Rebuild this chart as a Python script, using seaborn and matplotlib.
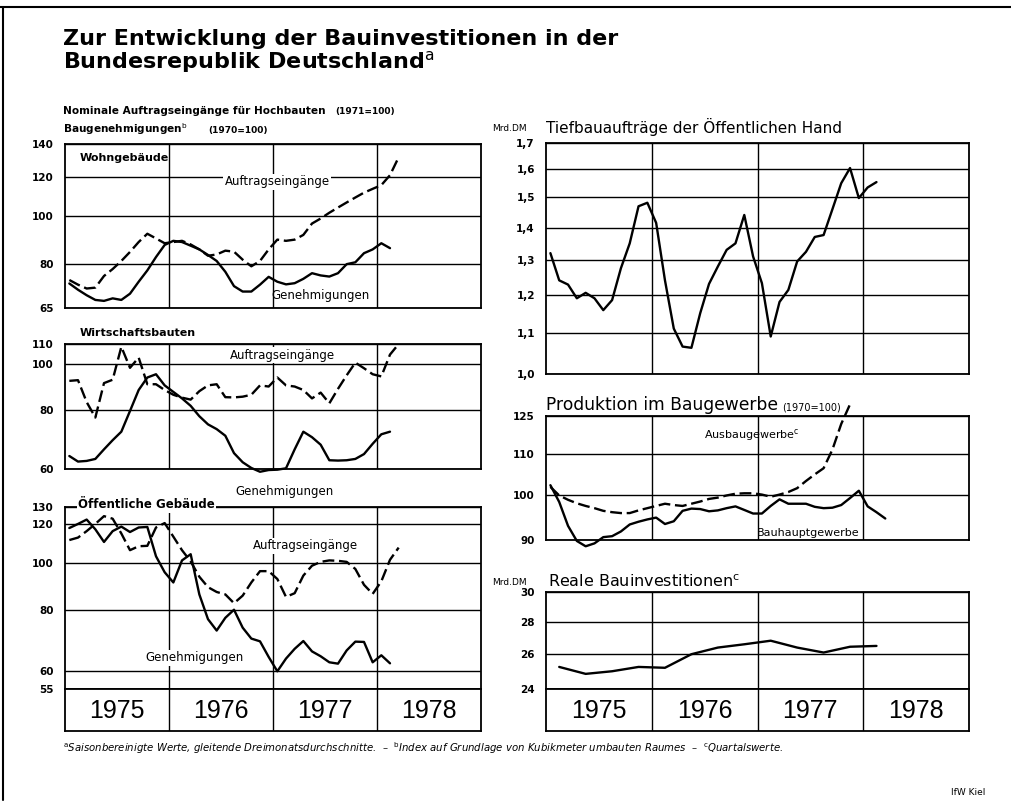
import numpy as np
import pandas as pd
import matplotlib
matplotlib.use("Agg")
import matplotlib.pyplot as plt
import seaborn as sns
from matplotlib.ticker import FixedLocator, FixedFormatter, NullLocator
from matplotlib.lines import Line2D

sns.set_style("white")
plt.rcParams['font.family'] = ['DejaVu Sans']
plt.rcParams['text.color'] = 'black'
plt.rcParams['xtick.color'] = 'black'
plt.rcParams['ytick.color'] = 'black'

# --- Daten (Monatswerte ab Jan 1975) ---
jahre = [1975, 1976, 1977, 1978]

wohn_auftrag = [74.1, 72.5, 71.2, 71.5, 75.5, 78, 81, 84.5, 88.5, 92, 90, 88, 88.5,
                89, 87.5, 85.5, 83, 83.5, 85, 84.6, 81.5, 79, 81, 85.5, 89.5, 89,
                89.5, 91.5, 96.5, 98.8, 101.5, 104, 106.5, 109, 111.5, 113.5, 115.5,
                121, 131.6]
wohn_genehm = [72.9, 70.8, 69, 67.5, 67.2, 68, 67.5, 69.5, 73.5, 77.5, 82.5, 87.3, 89,
               88.5, 87, 85.5, 83.3, 81, 77, 72, 70.2, 70.2, 72.5, 75.2, 73.5, 72.6,
               73, 74.5, 76.5, 75.7, 75.3, 76.5, 79.8, 80.5, 84, 85.5, 88, 86]

wirt_auftrag = [92, 92.3, 83, 77, 91, 92.5, 108.5, 98, 103, 90.5, 90.5, 88, 86, 84.8,
                84, 87.5, 90, 90.5, 85, 84.9, 85.2, 86, 90, 89.5, 93.5, 90, 89.5, 88,
                84.5, 86.9, 82.5, 88.5, 94.5, 100.5, 97.8, 95, 94, 104.5, 110]
wirt_genehm = [63.9, 62.2, 62.4, 63, 66, 69, 71.9, 79.5, 88, 93.5, 95, 90, 87.2, 84.5,
               81.5, 77.5, 74.5, 72.8, 70.5, 64.8, 62, 60.3, 59.2, 59.7, 59.8, 60.2,
               66, 71.9, 70, 67.5, 62.6, 62.5, 62.6, 63, 64.5, 67.8, 71, 71.9]

oeff_auftrag = [111.2, 112.5, 116, 120, 124.5, 123, 114.7, 106, 108, 108.2, 118, 120.5,
                113, 106, 100.5, 93.5, 89, 87, 86, 82.5, 85.5, 91, 96, 96, 92.5, 85,
                86.5, 94, 98.5, 100.3, 101, 100.8, 100.3, 97, 90, 86.2, 91.5, 101.3, 107.3]
oeff_genehm = [117.7, 120, 122.5, 117, 110.2, 116, 118.5, 115.5, 118, 118.3, 103, 95.5,
               91, 101, 104, 86, 76.5, 72.5, 77, 80, 73.5, 69.8, 68.9, 64, 59.8, 63.5,
               66.5, 69, 65.7, 64.2, 62.4, 62, 66, 68.8, 68.7, 62.4, 64.5, 62.1]

tiefbau = [1.32, 1.24, 1.228, 1.19, 1.205, 1.19, 1.158, 1.185, 1.275, 1.35, 1.47, 1.482,
           1.415, 1.24, 1.11, 1.065, 1.062, 1.15, 1.23, 1.28, 1.33, 1.35, 1.441, 1.31,
           1.232, 1.09, 1.18, 1.213, 1.295, 1.324, 1.37, 1.376, 1.46, 1.55, 1.605,
           1.498, 1.535, 1.554]

bauhaupt = [102.2, 98.3, 93, 89.8, 88.7, 89.3, 90.6, 90.8, 91.8, 93.3, 93.9, 94.4, 94.8,
            93.4, 94, 96.3, 96.8, 96.7, 96.2, 96.4, 96.9, 97.3, 96.5, 95.7, 95.7, 97.4,
            98.9, 97.9, 97.9, 97.9, 97.2, 96.9, 97, 97.6, 99.2, 100.9, 97.3, 96, 94.6]
ausbau = [101.8, 99.8, 98.8, 98, 97.4, 96.9, 96.3, 96, 95.8, 95.8, 96.4, 96.9, 97.4,
          97.9, 97.6, 97.4, 97.9, 98.4, 99, 99.3, 99.8, 100.2, 100.3, 100.3, 100, 99.5,
          100, 100.6, 101.5, 103.2, 104.8, 106.3, 111, 117.8, 123.3]

# Quartalswerte
real_invest = [25.25, 24.85, 25.0, 25.25, 25.2, 26.0, 26.4, 26.6, 26.82, 26.4, 26.1,
               26.45, 26.5]

W, H = 1011, 806
fig = plt.figure(figsize=(W / 100, H / 100), dpi=100)


def box(x0, y0, x1, y1):
    return fig.add_axes([x0 / W, 1 - y1 / H, (x1 - x0) / W, (y1 - y0) / H])


def ftext(x, y, s, **kw):
    fig.text(x / W, 1 - y / H, s, **kw)


def monate(werte):
    return 1975 + (np.arange(len(werte)) + 0.5) / 12


def quartale(werte):
    return 1975 + (np.arange(len(werte)) + 0.5) / 4


def linie(ax, x, y, gestrichelt=False):
    ls = (0, (5, 2)) if gestrichelt else '-'
    sns.lineplot(x=x, y=y, ax=ax, color='black', lw=1.7, linestyle=ls,
                 errorbar=None, clip_on=False)


def panel(ax, ymin, ymax, ticks, labels):
    ax.set_yscale('log')
    ax.set_xlim(1975, 1979)
    ax.set_ylim(ymin, ymax)
    ax.yaxis.set_major_locator(FixedLocator(ticks))
    ax.yaxis.set_major_formatter(FixedFormatter(labels))
    ax.yaxis.set_minor_locator(NullLocator())
    ax.set_xticks([1976, 1977, 1978])
    ax.set_xticklabels([])
    ax.tick_params(length=0, labelsize=7.5, pad=8)
    for lab in ax.get_yticklabels():
        lab.set_fontweight('bold')
    ax.grid(True, color='black', lw=1.0)
    for s in ax.spines.values():
        s.set_color('black')
        s.set_linewidth(1.3)
    ax.set_xlabel('')
    ax.set_ylabel('')


def jahresleiste(ax):
    ax.set_xlim(1975, 1979)
    ax.set_ylim(0, 1)
    ax.set_xticks([])
    ax.set_yticks([])
    for j in jahre[1:]:
        ax.axvline(j, color='black', lw=1)
    for j in jahre:
        ax.text(j + 0.5, 0.47, str(j), ha='center', va='center', fontsize=18,
                family=['Liberation Sans'])
    for s in ax.spines.values():
        s.set_color('black')
        s.set_linewidth(1.3)


# --- linke Spalte ---
ax1 = box(65, 144, 481, 308)
linie(ax1, monate(wohn_auftrag), wohn_auftrag, True)
linie(ax1, monate(wohn_genehm), wohn_genehm)
panel(ax1, 65, 140, [65, 80, 100, 120, 140], ['65', '80', '100', '120', '140'])

ax2 = box(65, 344, 481, 469)
linie(ax2, monate(wirt_auftrag), wirt_auftrag, True)
linie(ax2, monate(wirt_genehm), wirt_genehm)
panel(ax2, 60, 110, [60, 80, 100, 110], ['60', '80', '100', '110'])

ax3 = box(65, 507, 481, 689)
linie(ax3, monate(oeff_auftrag), oeff_auftrag, True)
linie(ax3, monate(oeff_genehm), oeff_genehm)
panel(ax3, 55, 130, [55, 60, 80, 100, 120, 130], ['55', '60', '80', '100', '120', '130'])

jahresleiste(box(65, 689, 481, 731))

# --- rechte Spalte ---
ax4 = box(546, 143, 969, 374)
linie(ax4, monate(tiefbau), tiefbau)
t4 = [1.0, 1.1, 1.2, 1.3, 1.4, 1.5, 1.6, 1.7]
panel(ax4, 1.0, 1.7, t4, [f"{t:.1f}".replace('.', ',') for t in t4])

ax5 = box(546, 416, 969, 540)
linie(ax5, monate(ausbau), ausbau, True)
linie(ax5, monate(bauhaupt), bauhaupt)
panel(ax5, 90, 120, [90, 100, 110, 120], ['90', '100', '110', '125'])

ax6 = box(546, 592, 969, 689)
linie(ax6, quartale(real_invest), real_invest)
panel(ax6, 24, 30, [24, 26, 28, 30], ['24', '26', '28', '30'])

jahresleiste(box(546, 689, 969, 731))

# --- Texte ---
ftext(63, 45, "Zur Entwicklung der Bauinvestitionen in der", fontsize=16, fontweight='bold')
ftext(63, 68, r"Bundesrepublik Deutschland$^{\mathrm{a}}$", fontsize=16, fontweight='bold')
ftext(63, 114, "Nominale Auftragseingänge für Hochbauten", fontsize=7.6, fontweight='bold')
ftext(335, 114, "(1971=100)", fontsize=6.5, fontweight='bold')
ftext(63, 133, r"Baugenehmigungen$^{\mathrm{b}}$", fontsize=7.6, fontweight='bold')
ftext(208, 133, "(1970=100)", fontsize=6.5, fontweight='bold')

weiss = dict(facecolor='white', edgecolor='none', pad=1)
ftext(80, 158, "Wohngebäude", fontsize=8, fontweight='bold', va='center')
ftext(277, 182, "Auftragseingänge", fontsize=8.5, ha='center', va='center', bbox=weiss)
ftext(321, 296, "Genehmigungen", fontsize=8.5, ha='center', va='center')
ftext(80, 333, "Wirtschaftsbauten", fontsize=8, fontweight='bold', va='center')
ftext(282, 355, "Auftragseingänge", fontsize=8.5, ha='center', va='center', bbox=weiss)
ftext(285, 492, "Genehmigungen", fontsize=8.5, ha='center', va='center')
ftext(78, 505, "Öffentliche Gebäude", fontsize=8.5, fontweight='bold', va='center', bbox=weiss)
ftext(305, 546, "Auftragseingänge", fontsize=8.5, ha='center', va='center', bbox=weiss)
ftext(195, 658, "Genehmigungen", fontsize=8.5, ha='center', va='center', bbox=weiss)

ftext(492, 131, "Mrd.DM", fontsize=6.5)
ftext(546, 133, "Tiefbauaufträge der Öffentlichen Hand", fontsize=11)
ftext(546, 410, "Produktion im Baugewerbe", fontsize=12.3)
ftext(782, 410, "(1970=100)", fontsize=7)
ftext(752, 435, r"Ausbaugewerbe$^{\mathrm{c}}$", fontsize=8, ha='center', va='center')
ftext(808, 533, "Bauhauptgewerbe", fontsize=8, ha='center', va='center')
ftext(492, 585, "Mrd.DM", fontsize=6.5)
ftext(548, 587, r"Reale Bauinvestitionen$^{\mathrm{c}}$", fontsize=11.5)

ftext(63, 752, r"$^{\mathrm{a}}$Saisonbereinigte Werte, gleitende Dreimonatsdurchschnitte.  –  "
      r"$^{\mathrm{b}}$Index auf Grundlage von Kubikmeter umbauten Raumes  –  "
      r"$^{\mathrm{c}}$Quartalswerte.", fontsize=7.3, style='italic')
ftext(985, 795, "IfW Kiel", fontsize=6.5, ha='right')

# Rand der Vorlage
fig.add_artist(Line2D([0, 1], [1 - 7 / H, 1 - 7 / H], color='black', lw=1.5))
fig.add_artist(Line2D([3 / W, 3 / W], [1 - 7 / H, 1 - 800 / H], color='black', lw=1.5))

fig.savefig("out.png", dpi=100)
